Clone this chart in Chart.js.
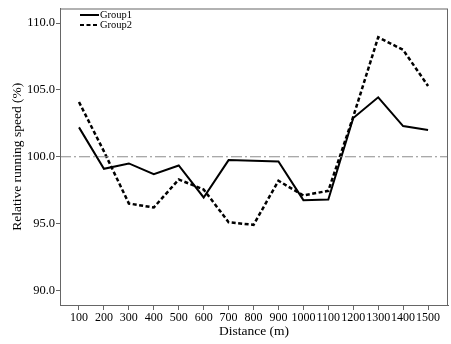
<!DOCTYPE html>
<html>
<head>
<meta charset="utf-8">
<script src="https://cdn.jsdelivr.net/npm/chart.js@4"></script>
<style>
  html, body { margin: 0; padding: 0; background: #fff; }
  #wrap { width: 451px; height: 344px; }
</style>
</head>
<body>
<div id="wrap"><canvas id="myChart" width="451" height="344"></canvas></div>
<script>
// Werte
const distances = [100, 200, 300, 400, 500, 600, 700, 800, 900, 1000, 1100, 1200, 1300, 1400, 1500];
const group1 = [102.2, 99.1, 99.5, 98.7, 99.35, 96.95, 99.75, 99.7, 99.65, 96.75, 96.8, 102.9, 104.45, 102.3, 102.0];
const group2 = [104.1, 100.4, 96.5, 96.2, 98.3, 97.55, 95.1, 94.9, 98.2, 97.1, 97.45, 103.0, 108.95, 108.0, 105.3];
const yTicks = [90, 95, 100, 105, 110];
const refLevel = 100;

const serif = '"Liberation Serif", "DejaVu Serif", serif';

function toPoints(vals) {
    return distances.map((d, i) => ({ x: d, y: vals[i] }));
}

// Rahmen um die Zeichenfläche
const frame = {
    id: 'frame',
    afterDraw(chart) {
        const a = chart.chartArea, ctx = chart.ctx;
        ctx.save();
        ctx.strokeStyle = '#666';
        ctx.lineWidth = 1;
        ctx.strokeRect(a.left + 0.5, a.top + 0.5, a.right - a.left - 1, a.bottom - a.top);
        ctx.restore();
    }
};

// kleine Legende oben links im Diagramm
const innerLegend = {
    id: 'innerLegend',
    afterDraw(chart) {
        const ctx = chart.ctx;
        const items = chart.data.datasets.filter(d => d.label);
        ctx.save();
        ctx.font = '10.5px ' + serif;
        ctx.textBaseline = 'middle';
        items.forEach((ds, i) => {
            const y = 15 + i * 10;
            ctx.strokeStyle = '#000';
            ctx.lineWidth = 2;
            ctx.setLineDash(ds.borderDash || []);
            ctx.beginPath();
            ctx.moveTo(80, y);
            ctx.lineTo(99, y);
            ctx.stroke();
            ctx.setLineDash([]);
            ctx.fillStyle = '#000';
            ctx.fillText(ds.label, 100, y);
        });
        ctx.restore();
    }
};

const ctx = document.getElementById('myChart').getContext('2d');
const myChart = new Chart(ctx, {
    type: 'line',
    data: {
        datasets: [{
            data: [{ x: 23.8, y: refLevel }, { x: 1580, y: refLevel }],
            borderColor: '#8c8c8c',
            borderWidth: 1,
            borderDash: [11, 3, 2, 3],
            pointRadius: 0,
            tension: 0
        }, {
            label: 'Group1',
            data: toPoints(group1),
            borderColor: '#000',
            borderWidth: 2,
            pointRadius: 0,
            tension: 0
        }, {
            label: 'Group2',
            data: toPoints(group2),
            borderColor: '#000',
            borderWidth: 2.5,
            borderDash: [4, 2.5],
            pointRadius: 0,
            tension: 0
        }]
    },
    options: {
        responsive: false,
        animation: false,
        layout: { padding: { top: 3, right: 3, left: 0, bottom: 0 } },
        plugins: {
            legend: { display: false },
            tooltip: { enabled: false }
        },
        scales: {
            x: {
                type: 'linear',
                min: 23.8,
                max: 1580,
                afterBuildTicks: axis => { axis.ticks = distances.map(v => ({ value: v })); },
                afterFit: axis => { axis.height = 39; },
                grid: { drawOnChartArea: false, tickLength: 5, color: '#666' },
                border: { color: '#666' },
                ticks: {
                    autoSkip: false,
                    maxRotation: 0,
                    padding: 1,
                    color: '#000',
                    font: { family: serif, size: 12 },
                    callback: v => String(v)
                },
                title: {
                    display: true,
                    text: 'Distance (m)',
                    color: '#000',
                    padding: { top: 0, bottom: 4 },
                    font: { family: serif, size: 13.5 }
                }
            },
            y: {
                min: 88.9,
                max: 111.1,
                afterBuildTicks: axis => { axis.ticks = yTicks.map(v => ({ value: v })); },
                afterFit: axis => { axis.width = 60; },
                grid: { drawOnChartArea: false, tickLength: 4, color: '#666' },
                border: { color: '#666' },
                ticks: {
                    padding: 1,
                    color: '#000',
                    font: { family: serif, size: 12.5 },
                    callback: v => Number(v).toFixed(1)
                },
                title: {
                    display: true,
                    text: 'Relative running speed (%)',
                    color: '#000',
                    padding: { top: 9, bottom: 2 },
                    font: { family: serif, size: 13.5 }
                }
            }
        }
    },
    plugins: [frame, innerLegend]
});
</script>
</body>
</html>
